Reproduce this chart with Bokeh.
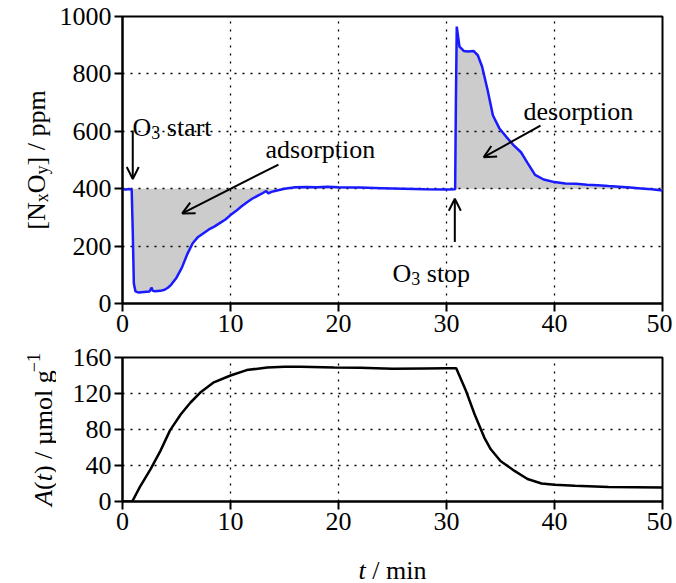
import numpy as np
from bokeh.plotting import figure
from bokeh.models import Range1d, Label, Arrow, OpenHead, FixedTicker, ColumnDataSource
from bokeh.layouts import column, row
from bokeh.embed import file_html
from bokeh.resources import INLINE

# ---------------- data ----------------
t_nxoy = [0, 0.3, 0.6, 0.85, 0.95, 1.05, 1.2, 1.5, 2.0, 2.5, 2.7, 2.8, 3.0, 3.5, 3.9,
          4.2, 4.5, 5.0, 5.5, 6.0, 6.5, 7.0, 7.5, 8.0, 8.5, 9.0, 9.5, 10.0, 10.5, 11.0,
          11.5, 12.0, 12.5, 13.0, 13.3, 13.5, 13.8, 14.2, 15.0, 16.0, 17.0, 18.0, 19.0,
          20.0, 22.0, 24.0, 26.0, 28.0, 30.0, 30.8, 30.87, 30.95, 31.2, 31.6, 32.0, 32.5,
          32.9, 33.3, 33.8, 34.3, 34.9, 35.6, 36.2, 36.9, 37.5, 38.2, 39.0, 40.0, 41.0,
          42.0, 43.0, 44.0, 45.0, 46.0, 47.0, 48.0, 49.0, 50.0]
nxoy = [398, 397, 399, 396, 250, 70, 42, 38, 40, 42, 55, 44, 43, 44, 48,
        55, 65, 90, 125, 172, 210, 232, 245, 258, 268, 280, 292, 308, 322, 338,
        352, 365, 375, 385, 392, 384, 389, 393, 400, 405, 406, 405, 407,
        405, 404, 402, 400, 398, 397, 398, 700, 965, 895, 880, 878, 880,
        865, 825, 745, 655, 610, 578, 552, 527, 490, 448, 432, 423, 418,
        417, 414, 412, 409, 407, 404, 401, 398, 394]

t_ads = [0, 0.9, 1.6, 2.6, 3.5, 4.4, 5.4, 6.3, 7.2, 8.4, 10.0, 11.5, 13.4, 15.0, 16.5,
         19.6, 22.0, 25.0, 28.0, 30.0, 30.9, 31.8, 32.6, 33.5, 34.1, 35.0, 36.3, 37.5,
         38.8, 40.0, 41.9, 45.0, 50.0]
ads = [0, 0, 16, 36, 56, 79, 97, 110, 121, 132, 140, 146, 149, 149.6, 149.7,
       149, 148.5, 147.5, 147.8, 148, 148, 123, 97, 71, 58, 45, 34, 25,
       20, 18.5, 17.5, 16, 15.5]

baseline_ppm = 400
x_ticks = [0, 10, 20, 30, 40, 50]
y_ticks_top = [0, 200, 400, 600, 800, 1000]
y_ticks_bot = [0, 40, 80, 120, 160]

FONT = "Liberation Serif"
FS = 26
SUB = 18

# ---------------- geometry (page pixels) ----------------
LW = 56            # width of the label strip on the left
FL = 122           # frame left
FW = 540
FH1, FH2 = 287, 144
TOP1, MB1 = 16, 42
H1 = TOP1 + FH1 + MB1          # 345
TOP2, MB2 = 12, 42
H2 = TOP2 + FH2 + MB2          # 198
H3 = 38
FRAME1_TOP = TOP1
FRAME2_TOP = H1 + TOP2


def make_fig(ymax, yticks, fh, mb_top, mb_bot):
    p = figure(frame_width=FW, frame_height=fh,
               x_range=Range1d(0, 50), y_range=Range1d(0, ymax),
               output_backend="svg", toolbar_location=None,
               min_border_left=FL - LW, min_border_right=10,
               min_border_top=mb_top, min_border_bottom=mb_bot)
    p.xaxis.ticker = FixedTicker(ticks=x_ticks)
    p.yaxis.ticker = FixedTicker(ticks=yticks)
    for ax in p.axis:
        ax.major_label_text_font = FONT
        ax.major_label_text_font_size = f"{FS}px"
        ax.major_label_text_color = "black"
        ax.axis_line_width = 2
        ax.axis_line_color = "black"
        ax.major_tick_line_width = 2
        ax.major_tick_line_color = "black"
        ax.major_tick_out = 8
        ax.major_tick_in = 0
        ax.minor_tick_out = 0
        ax.minor_tick_in = 0
        ax.major_label_standoff = 3
    p.outline_line_color = "black"
    p.outline_line_width = 2
    p.outline_line_alpha = 1
    p.grid.grid_line_color = "black"
    p.grid.grid_line_dash = "2 6"
    p.grid.grid_line_width = 1.3
    p.background_fill_color = "white"
    p.border_fill_color = "white"
    return p


def holder(w, h):
    # a blank plot that only holds text; its frame is its whole canvas
    f = figure(frame_width=w, frame_height=h, x_range=Range1d(0, w), y_range=Range1d(0, h),
               x_axis_type=None, y_axis_type=None, output_backend="svg",
               toolbar_location=None, min_border=0)
    f.outline_line_color = None
    f.grid.visible = False
    f.background_fill_color = "white"
    f.border_fill_color = "white"
    return f


p1 = make_fig(1000, y_ticks_top, FH1, TOP1, MB1)
p2 = make_fig(160, y_ticks_bot, FH2, TOP2, MB2)
LH = holder(LW, H1 + H2)
XL = holder(FL + FW + 10, H3)

# ---------------- marks ----------------
t_arr = np.array(t_nxoy, dtype=float)
y_arr = np.array(nxoy, dtype=float)
src1 = ColumnDataSource(dict(t=t_arr, y=y_arr, base=np.full_like(y_arr, baseline_ppm)))
p1.varea(x="t", y1="base", y2="y", source=src1, fill_color="#cccccc", level="image")
p1.line(x="t", y="y", source=src1, line_color="#1a1aff", line_width=2.5)

src2 = ColumnDataSource(dict(t=t_ads, a=ads))
p2.line(x="t", y="a", source=src2, line_color="black", line_width=2.5)

# ---------------- rich-text helper ----------------
TW = {'[': .333, ']': .333, 'N': .722, 'O': .722, 'x': .5, 'y': .5, ' ': .25, '/': .278,
      'p': .5, 'm': .778, 'A': .611, '(': .333, ')': .333, 't': .278, 'µ': .5, 'o': .5,
      'l': .278, 'g': .5, '−': .564, '1': .5, '3': .5, 's': .389, 'a': .444, 'r': .333,
      'i': .278, 'n': .5, 'd': .5, 'e': .444}


def twidth(s, size):
    return sum(TW.get(c, .5) for c in s) * size


def frame_conv(frame_top, fh, ymax, frame_left=FL, xmax=50, fw=FW):
    def f(px, py):
        return (px - frame_left) / fw * xmax, (frame_top + fh - py) / fh * ymax
    return f


conv1 = frame_conv(FRAME1_TOP, FH1, 1000)
convL = frame_conv(0, H1 + H2, H1 + H2, 0, LW, LW)
convX = frame_conv(H1 + H2, H3, H3, 0, FL + FW + 10, FL + FW + 10)


def rich(p, cv, pieces, x0, y0, rotated=False, center=False):
    total = sum(twidth(t, s) for t, s, _, _ in pieces)
    pos = -total / 2 if center else 0
    for txt, size, style, shift in pieces:
        lead = len(txt) - len(txt.lstrip(" "))
        pos += twidth(" " * lead, size)
        body = txt.lstrip(" ")
        if rotated:
            px, py = x0 - shift, y0 - pos
            ang = np.pi / 2
        else:
            px, py = x0 + pos, y0 - shift
            ang = 0
        dx, dy = cv(px, py)
        p.add_layout(Label(x=dx, y=dy, text=body, text_font=FONT,
                           text_font_size=f"{size}px", text_font_style=style,
                           text_color="black", angle=ang, text_align="left",
                           text_baseline="alphabetic"))
        pos += twidth(body, size)


# axis labels
rich(LH, convL, [("[N", FS, "normal", 0), ("x", SUB, "normal", -5), ("O", FS, "normal", 0),
                 ("y", SUB, "normal", -5), ("] / ppm", FS, "normal", 0)],
     36, FRAME1_TOP + FH1 / 2, rotated=True, center=True)
rich(LH, convL, [("A", FS, "italic", 0), ("(", FS, "normal", 0), ("t", FS, "italic", 0),
                 (") / µmol g", FS, "normal", 0), ("−1", SUB, "normal", 10)],
     43, FRAME2_TOP + FH2 / 2, rotated=True, center=True)
rich(XL, convX, [("t", FS, "italic", 0), (" / min", FS, "normal", 0)],
     FL + FW / 2, 570, center=True)

# annotations in upper panel
rich(p1, conv1, [("O", FS, "normal", 0), ("3", SUB, "normal", -5), (" start", FS, "normal", 0)],
     132, 127)
rich(p1, conv1, [("adsorption", FS, "normal", 0)], 265, 149)
rich(p1, conv1, [("desorption", FS, "normal", 0)], 523, 111)
rich(p1, conv1, [("O", FS, "normal", 0), ("3", SUB, "normal", -5), (" stop", FS, "normal", 0)],
     392, 273)


def arrow(p, xs, ys, xe, ye):
    p.add_layout(Arrow(end=OpenHead(size=12, line_width=2, line_color="black"),
                       x_start=xs, y_start=ys, x_end=xe, y_end=ye,
                       line_width=2, line_color="black"))


arrow(p1, 0.95, 603, 0.95, 434)
arrow(p1, 14.44, 484, 5.53, 314)
arrow(p1, 38.7, 620, 33.45, 510)
arrow(p1, 30.77, 214, 30.77, 365)

layout = column(row(LH, column(p1, p2, spacing=0), spacing=0), XL, spacing=0)
open("out.html", "w").write(file_html(layout, INLINE))
